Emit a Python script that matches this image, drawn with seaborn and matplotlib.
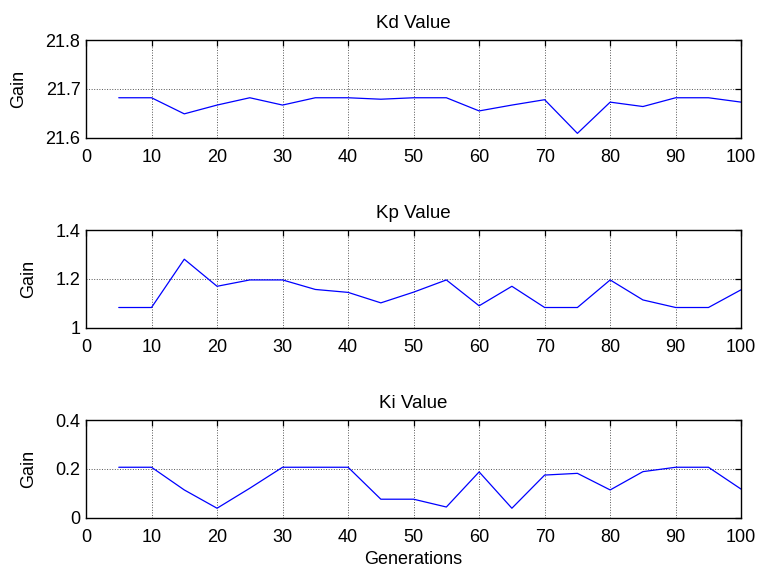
import numpy as np
import pandas as pd
import matplotlib
matplotlib.use("Agg")
import matplotlib.pyplot as plt
import seaborn as sns

generations = list(range(5, 101, 5))
kd = [21.682, 21.682, 21.649, 21.667, 21.682, 21.667, 21.682, 21.682, 21.679, 21.682,
      21.682, 21.655, 21.667, 21.678, 21.609, 21.673, 21.664, 21.682, 21.682, 21.673]
kp = [1.083, 1.083, 1.281, 1.170, 1.196, 1.196, 1.157, 1.145, 1.102, 1.146,
      1.196, 1.090, 1.170, 1.083, 1.083, 1.196, 1.114, 1.083, 1.083, 1.156]
ki = [0.207, 0.207, 0.114, 0.039, 0.121, 0.207, 0.207, 0.207, 0.076, 0.076,
      0.044, 0.188, 0.039, 0.175, 0.182, 0.114, 0.189, 0.207, 0.207, 0.117]

titles = ["Kd Value", "Kp Value", "Ki Value"]
ylims = [(21.6, 21.8), (1.0, 1.4), (0.0, 0.4)]
yticks = [[21.6, 21.7, 21.8], [1, 1.2, 1.4], [0, 0.2, 0.4]]
yticklabels = [["21.6", "21.7", "21.8"], ["1", "1.2", "1.4"], ["0", "0.2", "0.4"]]

df = pd.DataFrame({"Generations": generations, "Kd": kd, "Kp": kp, "Ki": ki})

sns.set_theme(style="white")
plt.rcParams["font.family"] = ["Liberation Sans", "DejaVu Sans"]
plt.rcParams["font.size"] = 13
plt.rcParams["text.color"] = "black"
plt.rcParams["axes.labelcolor"] = "black"

fig = plt.figure(figsize=(7.61, 5.74), dpi=100)
left, width = 0.113, 0.861
bottoms = [0.760, 0.429, 0.098]
height = 0.170

for i, col in enumerate(["Kd", "Kp", "Ki"]):
    ax = fig.add_axes([left, bottoms[i], width, height])
    sns.lineplot(data=df, x="Generations", y=col, ax=ax, color="blue", linewidth=0.9)
    ax.set_xlim(0, 100)
    ax.set_ylim(*ylims[i])
    ax.set_xticks(range(0, 101, 10))
    ax.set_yticks(yticks[i])
    ax.set_yticklabels(yticklabels[i])
    ax.tick_params(direction="in", length=4, width=0.9, top=True, right=True,
                   labelsize=13, colors="black", zorder=5)
    ax.tick_params(axis="x", pad=8)
    ax.tick_params(axis="y", pad=4)
    ax.grid(True, color="#555555", linestyle=":", linewidth=0.7)
    for s in ax.spines.values():
        s.set_color("black")
        s.set_linewidth(1.0)
    ax.set_title(titles[i], fontsize=13.5, pad=9, color="black")
    ax.set_ylabel("Gain", fontsize=13, labelpad=13)
    if i == 2:
        ax.set_xlabel("Generations", fontsize=13, labelpad=4)
    else:
        ax.set_xlabel("")

fig.savefig("out.png", dpi=100)
